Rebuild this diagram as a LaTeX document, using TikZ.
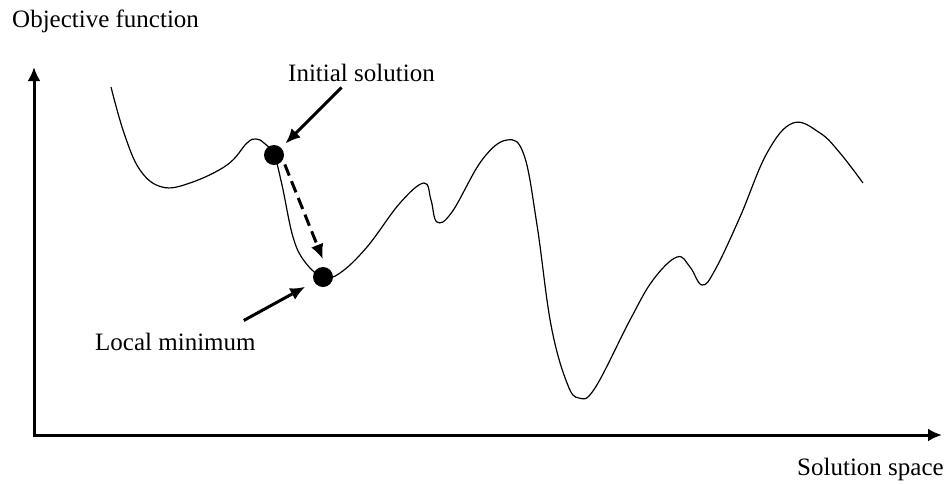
\documentclass[tikz,border=0pt]{standalone}
\usepackage{fontspec}
\setmainfont{Liberation Serif}
\usetikzlibrary{arrows.meta}

\begin{document}
\begin{tikzpicture}[x=1pt, y=-1pt, >={Latex[length=15pt,width=13pt]},
                    dot/.style={circle, fill, inner sep=0pt, minimum size=20pt},
                    lbl/.style={inner sep=0pt, anchor=base west, font=\fontsize{25}{30}\selectfont},
                    axis/.style={line width=3pt, {Latex[length=14pt,width=13pt]}-{Latex[length=14pt,width=13pt]}},
                    pointer/.style={line width=3pt, ->}]
  \useasboundingbox (0,0) rectangle (950,483);
  \coordinate (O) at (34,435);
  \coordinate (xtip) at (942,435);
  \coordinate (ytip) at (34,67);
  \draw[axis] (ytip) -- (O) -- (xtip);
  \node[lbl] (ylbl) at (12,27) {Objective function};
  \node[lbl] (xlbl) at (797,475) {Solution space};
  \draw[line width=1.2pt] plot[smooth, tension=0.65] coordinates {
    (111,87) (124,133) (140,170) (162,187) (190,183) (227,165) (247,143)
    (256,139) (264,143) (274,155) (282,185) (293,237) (305,262) (323,277)
    (340,273) (367,247) (400,203) (424,183) (431,200) (437,222)
    (452,212) (482,160) (507,140) (524,155) (537,225) (551,325)
    (567,383) (579,398) (595,388) (630,320) (653,280) (677,257) (690,267)
    (702,285) (715,270) (740,217) (767,153) (793,123) (820,133) (840,153)
    (863,183)};
  \node[dot] (init) at (274,155) {};
  \node[dot] (locmin) at (323,277) {};
  \node[lbl] (initlbl) at (288,81) {Initial solution};
  \node[lbl] (minlbl) at (95,350) {Local minimum};
  \draw[pointer, shorten >=6pt] ([xshift=-20pt,yshift=-6pt]initlbl.south) -- (init);
  \draw[pointer, shorten >=10pt] ([xshift=-12pt,yshift=12pt]minlbl.north east) -- (locmin);
  \draw[pointer, dash pattern=on 12pt off 6pt, shorten >=9pt,
        transform canvas={xshift=7pt}] (init) -- (locmin);
\end{tikzpicture}
\end{document}
